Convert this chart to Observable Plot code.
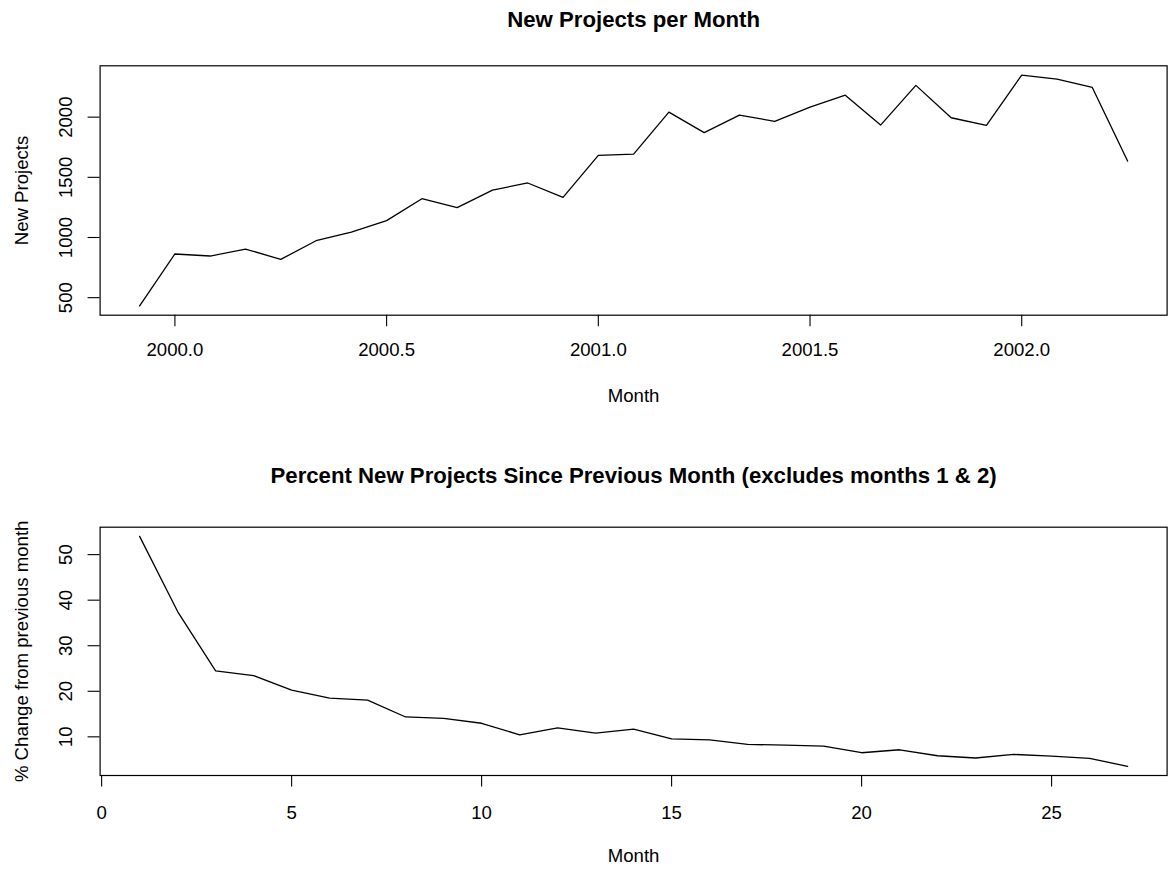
<!DOCTYPE html>
<html>
<head>
<meta charset="utf-8">
<script src="https://cdn.jsdelivr.net/npm/d3@7"></script>
<script src="https://cdn.jsdelivr.net/npm/@observablehq/plot@0.6"></script>
<style>
  html, body { margin: 0; padding: 0; background: #fff; }
  #chart { width: 1172px; height: 871px; }
  #chart > svg { display: block; }
</style>
</head>
<body>
<div id="chart"></div>
<script>
// ---- Data ----
const months = ["1999-12","2000-01","2000-02","2000-03","2000-04","2000-05","2000-06","2000-07","2000-08","2000-09","2000-10","2000-11","2000-12",
  "2001-01","2001-02","2001-03","2001-04","2001-05","2001-06","2001-07","2001-08","2001-09","2001-10","2001-11","2001-12",
  "2002-01","2002-02","2002-03","2002-04"];
const newProjects = [431, 863, 846, 904, 818, 973, 1045, 1140, 1322, 1248, 1394, 1453, 1333,
  1682, 1693, 2042, 1871, 2017, 1965, 2084, 2183, 1934, 2264, 1995, 1932,
  2350, 2316, 2247, 1635];

const monthIndex = [1,2,3,4,5,6,7,8,9,10,11,12,13,14,15,16,17,18,19,20,21,22,23,24,25,26,27];
const pctChange = [54.0, 37.5, 24.5, 23.45, 20.25, 18.5, 18.07, 14.36, 14.07, 12.98, 10.44, 11.96, 10.8,
  11.67, 9.56, 9.35, 8.33, 8.18, 7.96, 6.51, 7.16, 5.85, 5.35, 6.15, 5.78, 5.27, 3.53];

const topXTicks = [2000.0, 2000.5, 2001.0, 2001.5, 2002.0];
const topYTicks = [500, 1000, 1500, 2000];
const botXTicks = [0, 5, 10, 15, 20, 25];
const botYTicks = [10, 20, 30, 40, 50];

const topTitle = "New Projects per Month";
const topYLabel = "New Projects";
const botTitle = "Percent New Projects Since Previous Month (excludes months 1 & 2)";
const botYLabel = "% Change from previous month";
const xLabel = "Month";

// ---- Build tables ----
const toYear = s => { const [y, m] = s.split("-").map(Number); return y + (m - 1) / 12; };
const topData = months.map((m, i) => ({t: toYear(m), v: newProjects[i]}));
const botData = monthIndex.map((m, i) => ({t: m, v: pctChange[i]}));

// R-style 4% domain extension
const rdom = vals => { const [a, b] = d3.extent(vals); const p = (b - a) * 0.04; return [a - p, b + p]; };

const FONT = "'Liberation Sans', Arial, Helvetica, sans-serif";
const W = 1172;

function panel({data, height, mt, mb, xTicks, yTicks, xFmt, title, titleDy, titleSize, yLabel, xLabelDy, xTickPad}) {
  return Plot.plot({
    width: W,
    height,
    marginTop: mt,
    marginBottom: mb,
    marginLeft: 99.6,
    marginRight: 5.4,
    style: {fontFamily: FONT, fontSize: "18.6px", color: "black", background: "white", overflow: "visible"},
    x: {domain: rdom(data.map(d => d.t))},
    y: {domain: rdom(data.map(d => d.v))},
    marks: [
      Plot.axisX({ticks: xTicks, tickSize: 11.5, tickPadding: xTickPad, tickFormat: xFmt, label: null, stroke: "black", strokeWidth: 1.1}),
      Plot.axisY({ticks: yTicks, tickSize: 12, tickRotate: -90, tickPadding: 16, tickFormat: d => String(d), label: null, stroke: "black", strokeWidth: 1.1}),
      Plot.line(data, {x: "t", y: "v", stroke: "black", strokeWidth: 1.3}),
      Plot.frame({stroke: "black", strokeWidth: 1.2}),
      Plot.text([title], {frameAnchor: "top", textAnchor: "middle", lineAnchor: "bottom", dy: titleDy, fontWeight: "bold", fontSize: titleSize, fill: "black"}),
      Plot.text([yLabel], {frameAnchor: "left", textAnchor: "middle", rotate: -90, lineAnchor: "middle", dx: -78.3, fill: "black"}),
      Plot.text([xLabel], {frameAnchor: "bottom", textAnchor: "middle", lineAnchor: "bottom", dy: xLabelDy, fill: "black"})
    ]
  });
}

const topPanel = panel({
  data: topData, height: 436, mt: 65.3, mb: 121.3,
  xTicks: topXTicks, yTicks: topYTicks, xFmt: d => d.toFixed(1),
  title: topTitle, titleDy: -38.6, titleSize: 22.2, yLabel: topYLabel, xLabelDy: 86.3, xTickPad: 16.5
});
const botPanel = panel({
  data: botData, height: 435, mt: 90.7, mb: 96,
  xTicks: botXTicks, yTicks: botYTicks, xFmt: d => String(d),
  title: botTitle, titleDy: -44.2, titleSize: 22.2, yLabel: botYLabel, xLabelDy: 86, xTickPad: 18.5
});
const root = document.getElementById("chart");
root.appendChild(topPanel);
root.appendChild(botPanel);
</script>
</body>
</html>
